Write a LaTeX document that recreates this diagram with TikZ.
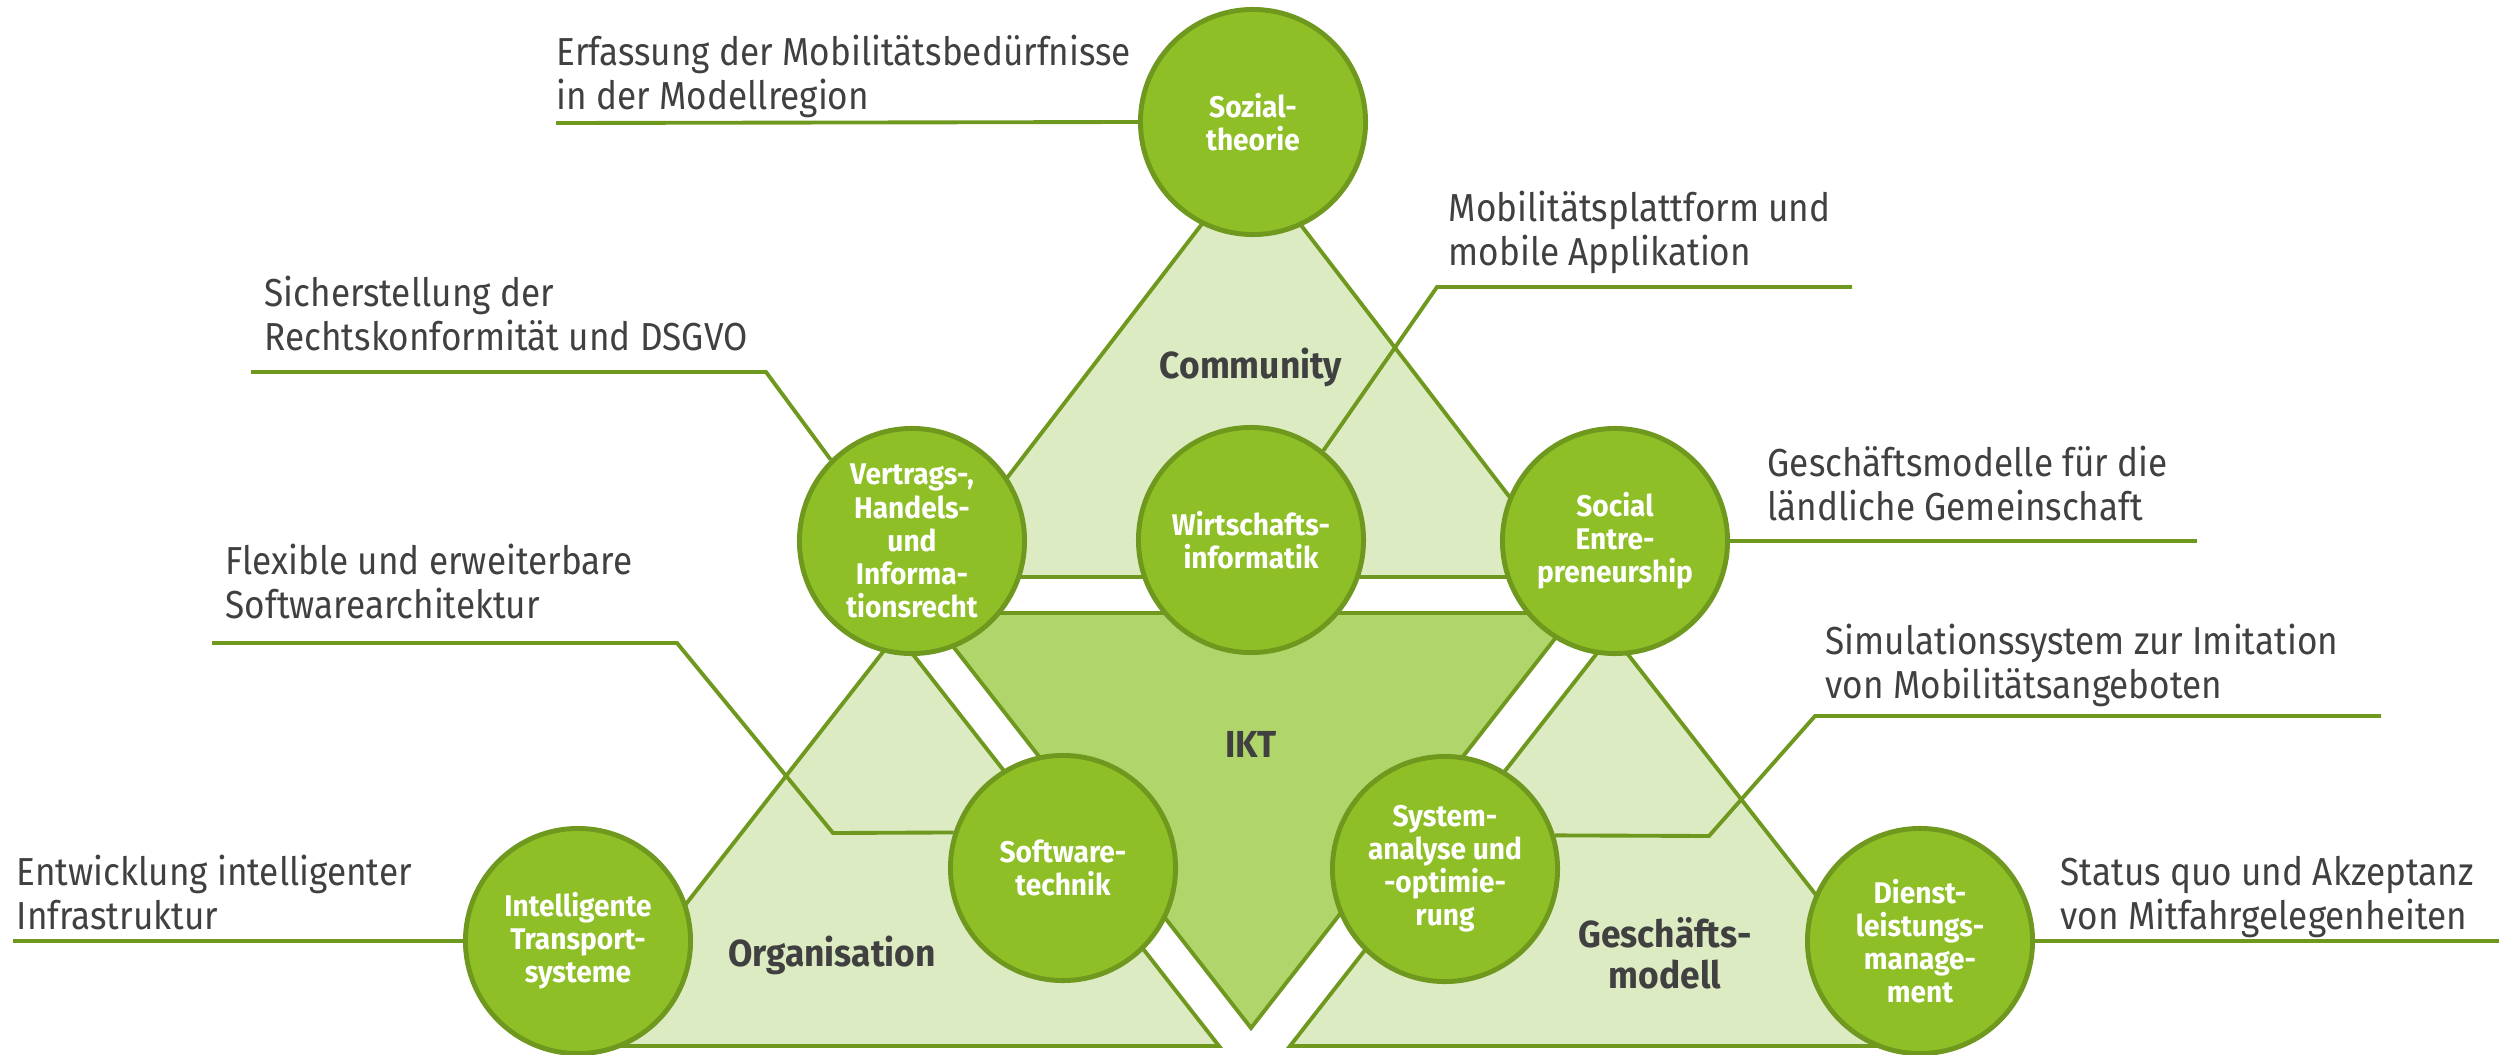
\documentclass[tikz,border=0pt]{standalone}
\usepackage{fontspec}
\setmainfont{Fira Sans}[FakeStretch=0.9, BoldFeatures={FakeStretch=0.94}]
\usetikzlibrary{backgrounds}

\definecolor{leaf}{RGB}{143,191,38}
\definecolor{leafdark}{RGB}{110,152,30}
\definecolor{palegreen}{RGB}{220,235,194}
\definecolor{midgreen}{RGB}{176,213,106}
\definecolor{ink}{RGB}{64,64,64}

\tikzset{
  topic/.style={circle, draw=leafdark, line width=1.4pt, fill=leaf,
    minimum size=2.25cm, inner sep=0pt, align=center, text=white,
    font=\bfseries\fontsize{8.5}{9.4}\selectfont},
  area/.style={draw=leafdark, line width=1.1pt, fill=palegreen, line join=miter},
  core/.style={draw=leafdark, line width=1.1pt, fill=midgreen, line join=miter},
  arealabel/.style={align=center, text=ink, inner sep=0pt,
    font=\bfseries\fontsize{10.7}{11.7}\selectfont},
  note/.style={align=left, text=ink, inner sep=0pt, anchor=south west,
    text depth=0pt, font=\fontsize{11.1}{12.5}\selectfont},
  link/.style={draw=leafdark, line width=1.1pt, line join=miter}
}

\begin{document}
\begin{tikzpicture}[x=0.01cm, y=-0.01cm]
\useasboundingbox (0,0) rectangle (2499,1054);

% competence circles
\node[topic] (soz)   at (1253,122) {Sozial-\\theorie};
\node[topic] (recht) at (912,541)  {Vertrags-,\\Handels-\\und\\Informa-\\tionsrecht};
\node[topic] (wi)    at (1251,540) {Wirtschafts-\\informatik};
\node[topic] (se)    at (1615,541) {Social\\Entre-\\preneurship};
\node[topic] (swt)   at (1063,868) {Software-\\technik};
\node[topic] (sys)   at (1445,869) {System-\\analyse und\\-optimie-\\rung};
\node[topic] (its)   at (578,941)  {Intelligente\\Transport-\\systeme};
\node[topic] (dlm)   at (1920,941) {Dienst-\\leistungs-\\manage-\\ment};

% free ends of the connectors
\coordinate (e1) at (556,123);
\coordinate (e2a) at (1852,287);  \coordinate (e2b) at (1437,287);
\coordinate (e3a) at (251,372);   \coordinate (e3b) at (766,372);
\coordinate (e4a) at (212,643);   \coordinate (e4b) at (677,643);  \coordinate (e4c) at (833,833);
\coordinate (e5) at (13,941);
\coordinate (e6) at (2197,541);
\coordinate (e7a) at (2381,716);  \coordinate (e7b) at (1815,716); \coordinate (e7c) at (1709,836);
\coordinate (e8) at (2499,941);

\begin{scope}[on background layer]
  % the four areas
  \path[area] (1251,160) -- (1571,577) -- (931,577) -- cycle;
  \path[area] (897,634) -- (1219,1046) -- (575,1046) -- cycle;
  \path[area] (1612,634) -- (1934,1046) -- (1290,1046) -- cycle;
  \path[core] (927,613) -- (1575,613) -- (1251,1028) -- cycle;
  % connectors from the circles to their notes
  \draw[link] (soz.west) -- (e1);
  \draw[link] (wi.51) -- (e2b) -- (e2a);
  \draw[link] (recht.135) -- (e3b) -- (e3a);
  \draw[link] (swt.162) -- (e4c) -- (e4b) -- (e4a);
  \draw[link] (its.west) -- (e5);
  \draw[link] (se.east) -- (e6);
  \draw[link] (sys.17) -- (e7c) -- (e7b) -- (e7a);
  \draw[link] (dlm.east) -- (e8);
\end{scope}

% area labels
\node[arealabel] (lcom) at (1251,367) {Community};
\node[arealabel] (likt) at (1251,744) {IKT};
\node[arealabel] (lorg) at (832,955)  {Organisation};
\node[arealabel] (lgm)  at (1665,953) {Geschäfts-\\modell};

% notes
\node[note] (n1) at (556,110)  {Erfassung der Mobilitätsbedürfnisse\\in der Modellregion};
\node[note] (n2) at (1448,266) {Mobilitätsplattform und\\mobile Applikation};
\node[note] (n3) at (264,351)  {Sicherstellung der\\Rechtskonformität und DSGVO};
\node[note] (n4) at (225,619)  {Flexible und erweiterbare\\Softwarearchitektur};
\node[note] (n5) at (16,930)   {Entwicklung intelligenter\\Infrastruktur};
\node[note] (n6) at (1767,521) {Geschäftsmodelle für die\\ländliche Gemeinschaft};
\node[note] (n7) at (1825,699) {Simulationssystem zur Imitation\\von Mobilitätsangeboten};
\node[note] (n8) at (2060,930) {Status quo und Akzeptanz\\von Mitfahrgelegenheiten};
\end{tikzpicture}
\end{document}
